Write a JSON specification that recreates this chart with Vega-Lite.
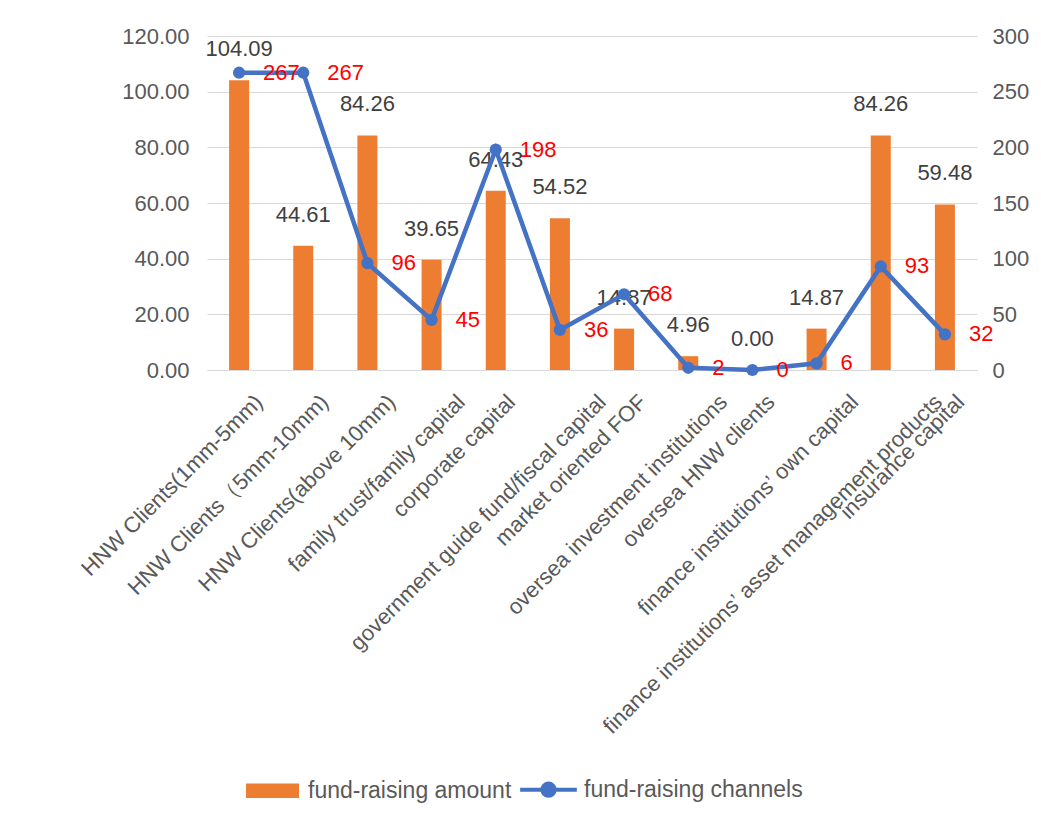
{
  "$schema": "https://vega.github.io/schema/vega-lite/v6.json",
  "autosize": {"type": "none"},
  "width": 770,
  "height": 334,
  "padding": {"left": 207, "top": 36, "right": 64, "bottom": 455},
  "background": "white",
  "config": {
    "font": "Liberation Sans",
    "view": {"stroke": null},
    "axis": {"labelFont": "Liberation Sans", "labelFontSize": 22, "labelColor": "#595959", "ticks": false, "title": null}
  },
  "data": {"values": [
    {"source": "HNW Clients(1mm-5mm)", "amount": 104.09, "channels": 267},
    {"source": "HNW Clients（5mm-10mm)", "amount": 44.61, "channels": 267},
    {"source": "HNW Clients(above 10mm)", "amount": 84.26, "channels": 96},
    {"source": "family trust/family capital", "amount": 39.65, "channels": 45},
    {"source": "corporate capital", "amount": 64.43, "channels": 198},
    {"source": "government guide fund/fiscal capital", "amount": 54.52, "channels": 36},
    {"source": "market oriented FOF", "amount": 14.87, "channels": 68},
    {"source": "oversea investment institutions", "amount": 4.96, "channels": 2},
    {"source": "oversea HNW clients", "amount": 0.00, "channels": 0},
    {"source": "finance institutions’ own capital", "amount": 14.87, "channels": 6},
    {"source": "finance institutions’ asset management products", "amount": 84.26, "channels": 93},
    {"source": "insurance capital", "amount": 59.48, "channels": 32}
  ]},
  "encoding": {
    "x": {
      "field": "source", "type": "nominal", "sort": null,
      "axis": {
        "labelAngle": -45, "labelAlign": "right", "labelBaseline": "middle",
        "labelPadding": 28, "labelLimit": 0, "labelOverlap": false, "labelFontSize": 22,
        "labelOffset": {"expr": "1.4*length(datum.label) - 8"},
        "domainColor": "#D9D9D9", "domainWidth": 1, "grid": false
      }
    }
  },
  "layer": [
    {
      "encoding": {
        "y": {"field": "amount", "type": "quantitative",
          "scale": {"domain": [0, 120]},
          "axis": {"format": ".2f", "values": [0, 20, 40, 60, 80, 100, 120], "grid": true, "gridColor": "#D9D9D9", "domain": false, "labelPadding": 18}}
      },
      "layer": [
        {
          "mark": {"type": "bar", "size": 20},
          "encoding": {
            "color": {"datum": "fund-raising amount", "type": "nominal",
              "scale": {"domain": ["fund-raising amount", "fund-raising channels"], "range": ["#ED7D31", "#4472C4"]},
              "legend": {
                "orient": "none", "legendX": 54, "legendY": 742, "direction": "horizontal",
                "title": null, "labelFont": "Liberation Sans", "labelFontSize": 23, "labelColor": "#595959", "labelLimit": 0,
                "symbolSize": 2809, "labelOffset": 24, "columnPadding": 0,
                "encode": {"symbols": {"update": {
                  "shape": {"signal": "datum.value == 'fund-raising amount' ? 'M-1,-0.27H1V0.27H-1Z' : 'M-1.07,0H1.07M0.23,0A0.23,0.23 0 1 1 -0.23,0A0.23,0.23 0 1 1 0.23,0'"},
                  "fill": {"signal": "datum.value == 'fund-raising amount' ? '#ED7D31' : '#4472C4'"},
                  "stroke": {"signal": "datum.value == 'fund-raising amount' ? '#ED7D31' : '#4472C4'"},
                  "strokeWidth": {"signal": "datum.value == 'fund-raising amount' ? 0 : 4"},
                  "opacity": {"value": 1}, "fillOpacity": {"value": 1}
                }}}
              }}
          }
        },
        {
          "mark": {"type": "text", "dy": -31, "baseline": "middle", "fontSize": 22, "color": "#404040", "font": "Liberation Sans"},
          "encoding": {"text": {"field": "amount", "type": "quantitative", "format": ".2f"}}
        }
      ]
    },
    {
      "encoding": {
        "y": {"field": "channels", "type": "quantitative",
          "scale": {"domain": [0, 300]},
          "axis": {"orient": "right", "values": [0, 50, 100, 150, 200, 250, 300], "grid": false, "domain": false, "labelPadding": 15, "format": "d"}}
      },
      "layer": [
        {
          "mark": {"type": "line", "strokeWidth": 4.5, "point": {"filled": true, "size": 150}},
          "encoding": {"color": {"datum": "fund-raising channels", "type": "nominal"}}
        },
        {
          "mark": {"type": "text", "align": "left", "dx": 24, "baseline": "middle", "fontSize": 22, "color": "#FF0000", "font": "Liberation Sans"},
          "encoding": {"text": {"field": "channels", "type": "quantitative", "format": "d"}}
        }
      ]
    }
  ],
  "resolve": {"scale": {"y": "independent"}}
}
